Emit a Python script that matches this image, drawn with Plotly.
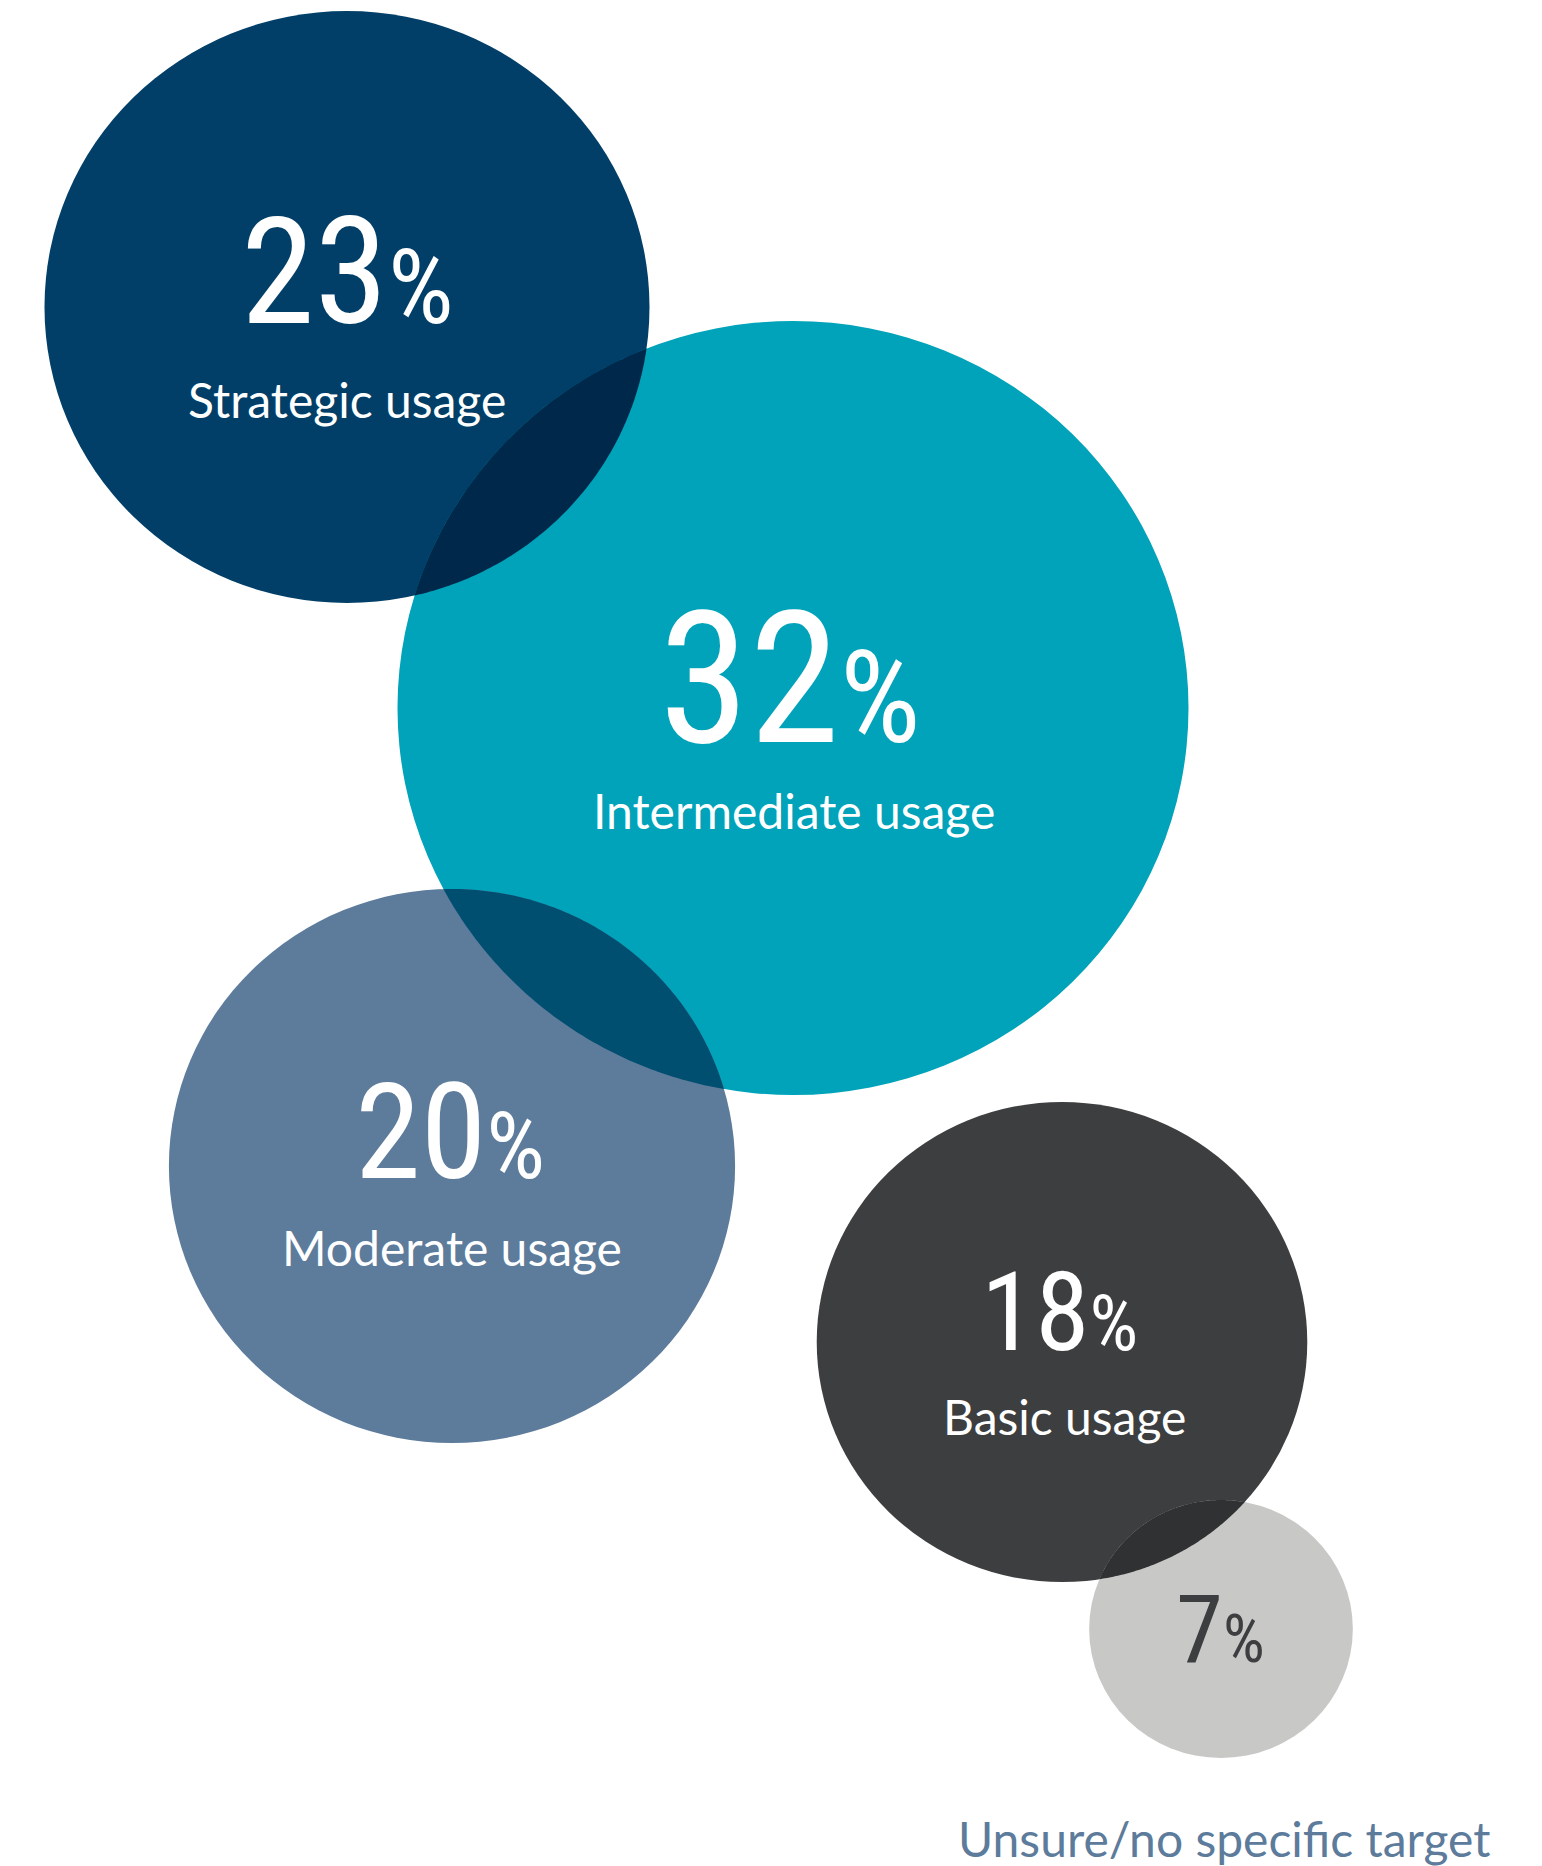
import math
import plotly.graph_objects as go

# ---- data ----
categories = ["Strategic usage", "Intermediate usage", "Moderate usage", "Basic usage", "Unsure/no specific target"]
values = [23, 32, 20, 18, 7]

# ---- layout (pixel positions of bubbles, radii, styles) ----
centers_x = [347, 793, 452, 1062, 1221]
centers_y = [307, 708, 1166, 1342, 1629]
radii = [296, 387, 277, 240, 129]          # vertical radius in px
stretch_x = 1.022                          # bubbles are slightly wider than tall
colors = ["#013F68", "#00A3B9", "#5D7B9B", "#3D3E40", "#C8C8C6"]
num_colors = ["white", "white", "white", "white", "#3D3E40"]
num_size = [149, 183, 133, 110, 95]
num_x = [347, 790, 450, 1059, 1220]
num_y = [272, 679, 1132, 1312, 1629]
lab_x = [347, 794, 452, 1064, 1224]
lab_y = [399, 810, 1247, 1416, 1838]
lab_colors = ["white", "white", "white", "white", "#5D7B9B"]
overlaps = [(0, 1), (1, 2), (3, 4)]

W, H = 1542, 1866


def hex2rgb(h):
    h = h.lstrip("#")
    return [int(h[i:i + 2], 16) for i in (0, 2, 4)]


def multiply(c1, c2):
    a, b = hex2rgb(c1), hex2rgb(c2)
    return "rgb({},{},{})".format(*[round(x * y / 255) for x, y in zip(a, b)])


def lens_path(i, j, n=90):
    # work in un-stretched space where bubbles are circles, then stretch x back
    x1, y1, r1 = centers_x[i] / stretch_x, centers_y[i], radii[i]
    x2, y2, r2 = centers_x[j] / stretch_x, centers_y[j], radii[j]
    dx, dy = x2 - x1, y2 - y1
    d = math.hypot(dx, dy)
    a = (r1 ** 2 - r2 ** 2 + d ** 2) / (2 * d)
    phi = math.atan2(dy, dx)
    al1 = math.acos(a / r1)
    al2 = math.acos((d - a) / r2)
    pts = []
    for k in range(n + 1):
        t = phi - al1 + 2 * al1 * k / n
        pts.append((x1 + r1 * math.cos(t), y1 + r1 * math.sin(t)))
    for k in range(n + 1):
        t = phi + math.pi - al2 + 2 * al2 * k / n
        pts.append((x2 + r2 * math.cos(t), y2 + r2 * math.sin(t)))
    return "M " + " L ".join(f"{x * stretch_x:.2f},{y:.2f}" for x, y in pts) + " Z"


shapes = []
for cx, cy, r, col in zip(centers_x, centers_y, radii, colors):
    rx = r * stretch_x
    shapes.append(dict(type="circle", xref="x", yref="y", x0=cx - rx, x1=cx + rx,
                       y0=cy - r, y1=cy + r, fillcolor=col, line=dict(width=0), layer="above"))
for i, j in overlaps:
    shapes.append(dict(type="path", xref="x", yref="y", path=lens_path(i, j),
                       fillcolor=multiply(colors[i], colors[j]), line=dict(width=0), layer="above"))

NUM_FONT = "Liberation Sans Narrow, Roboto Condensed, DejaVu Sans Condensed, sans-serif"
annotations = []
for k, v in enumerate(values):
    pct = round(num_size[k] * 0.70)
    annotations.append(dict(
        x=num_x[k], y=num_y[k], xref="x", yref="y", showarrow=False,
        xanchor="center", yanchor="middle",
        text=f"{v}<span style='font-size:{pct}px'>%</span>",
        font=dict(family=NUM_FONT, size=num_size[k], color=num_colors[k]),
    ))
    annotations.append(dict(
        x=lab_x[k], y=lab_y[k], xref="x", yref="y", showarrow=False,
        xanchor="center", yanchor="middle", text=categories[k],
        font=dict(family="Lato, sans-serif", size=48, color=lab_colors[k]),
    ))

fig = go.Figure()
fig.add_trace(go.Scatter(x=[0, W], y=[0, H], mode="markers",
                         marker=dict(opacity=0), hoverinfo="skip", showlegend=False))
fig.update_layout(
    width=W, height=H, margin=dict(l=0, r=0, t=0, b=0),
    paper_bgcolor="white", plot_bgcolor="white",
    xaxis=dict(range=[0, W], visible=False, fixedrange=True),
    yaxis=dict(range=[H, 0], visible=False, fixedrange=True),
    shapes=shapes, annotations=annotations, showlegend=False,
)
fig.write_html("out.html", config={"displayModeBar": False},
               post_script="document.body.style.margin='0';document.body.style.overflow='hidden';")
